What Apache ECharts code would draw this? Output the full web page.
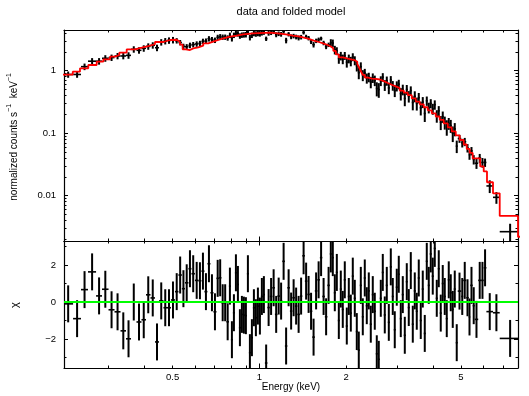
<!DOCTYPE html>
<html>
<head>
<meta charset="utf-8">
<title>data and folded model</title>
<script src="https://cdn.jsdelivr.net/npm/echarts@6/dist/echarts.min.js"></script>
<style>
  html, body { margin: 0; padding: 0; background: #fff; }
  #chart { width: 529px; height: 396px; }
</style>
</head>
<body>
<div id="chart"></div>
<script>
// spectrum bins: edges in keV (one more than the number of bins)
const binEdges = [
  0.2084, 0.2258, 0.2405, 0.2544, 0.2713, 0.2845, 0.2997, 0.3144, 0.3298, 0.3446,
  0.3586, 0.3747, 0.3899, 0.4042, 0.4190, 0.4343, 0.4484, 0.4648, 0.4781, 0.4934,
  0.5095, 0.5238, 0.5384, 0.5518, 0.5674, 0.5812, 0.5976, 0.6145, 0.6294, 0.6447,
  0.6603, 0.6764, 0.6928, 0.7096, 0.7238, 0.7384, 0.7533, 0.7684, 0.7839, 0.7965,
  0.8093, 0.8225, 0.8356, 0.8491, 0.8627, 0.8766, 0.8906, 0.9050, 0.9196, 0.9344,
  0.9495, 0.9647, 0.9802, 0.9961, 1.012, 1.028, 1.045,
  1.066, 1.087, 1.109, 1.132, 1.155, 1.178, 1.201, 1.226, 1.250, 1.276,
  1.301, 1.328, 1.354, 1.382, 1.409, 1.438, 1.467, 1.496, 1.526, 1.557,
  1.589, 1.621, 1.653, 1.687, 1.721, 1.755,
  1.783, 1.812, 1.841, 1.871, 1.901, 1.931, 1.962, 1.994, 2.026, 2.059,
  2.092, 2.125, 2.160, 2.194, 2.230, 2.266, 2.302, 2.339, 2.377, 2.415,
  2.454, 2.493, 2.534, 2.574, 2.616, 2.658, 2.701, 2.744, 2.789, 2.834,
  2.879, 2.925, 2.972, 3.020, 3.069, 3.118, 3.169, 3.220, 3.271, 3.324,
  3.378, 3.432, 3.487, 3.543, 3.600, 3.658, 3.717, 3.777, 3.838, 3.899,
  3.962, 4.026, 4.091, 4.157, 4.223, 4.291, 4.360, 4.431, 4.502, 4.574,
  4.648, 4.723, 4.799,
  4.875, 5.015, 5.095, 5.218, 5.324, 5.388, 5.495, 5.584, 5.742, 5.881,
  6.000, 6.130, 6.462, 6.818, 8.0
];

// normalized counts s^-1 keV^-1
const rate = [
  0.87, 0.87, 1.16, 1.42, 1.42, 1.58, 1.62, 1.72, 1.72, 1.76,
  2.20, 2.12, 2.28, 2.45, 2.55, 2.33, 2.86, 2.98, 3.05, 3.10,
  3.02, 2.82, 2.45, 2.42, 2.55, 2.62, 2.68, 2.74, 2.95, 2.98,
  3.25, 3.15, 3.08, 3.42, 3.50, 3.45, 3.45, 3.35, 3.70, 3.25,
  3.70, 3.95, 3.90, 3.60, 3.72, 3.75, 3.78, 4.15, 3.40, 3.70,
  3.95, 3.88, 3.95, 3.90, 4.05, 4.15,
  3.25, 3.97, 4.06, 4.20, 3.77, 3.91, 3.83, 4.25, 3.05, 3.84,
  3.50, 3.59, 3.47, 3.35, 3.45, 4.09, 3.49, 3.32, 2.93, 2.61,
  3.01, 3.14, 3.27, 2.78, 2.43, 2.60,
  2.81, 2.77, 2.16, 2.08, 1.57, 1.73, 1.54, 1.74, 1.37, 1.56,
  1.42, 1.66, 1.46, 1.19, 0.93, 1.16, 0.85, 0.92, 0.76, 0.79,
  0.66, 0.77, 0.70, 0.52, 0.50, 0.69, 0.79, 0.59, 0.69, 0.53,
  0.71, 0.58, 0.48, 0.57, 0.61, 0.43, 0.50, 0.36, 0.50, 0.39,
  0.48, 0.31, 0.39, 0.30, 0.37, 0.255, 0.315, 0.207, 0.33, 0.257,
  0.30, 0.246, 0.286, 0.19, 0.228, 0.150, 0.184, 0.149, 0.126, 0.144,
  0.132, 0.100, 0.117,
  0.062, 0.082, 0.070, 0.073, 0.058, 0.045, 0.052, 0.038, 0.033, 0.040,
  0.034, 0.034, 0.0143, 0.0094, 0.00265
];

const rateErr = [
  0.10, 0.10, 0.14, 0.17, 0.17, 0.19, 0.19, 0.20, 0.20, 0.21,
  0.26, 0.25, 0.27, 0.29, 0.30, 0.28, 0.34, 0.35, 0.36, 0.37,
  0.30, 0.28, 0.25, 0.24, 0.26, 0.26, 0.27, 0.27, 0.30, 0.30,
  0.32, 0.31, 0.31, 0.34, 0.35, 0.34, 0.34, 0.33, 0.37, 0.32,
  0.37, 0.39, 0.39, 0.36, 0.37, 0.37, 0.38, 0.41, 0.35, 0.37,
  0.39, 0.39, 0.39, 0.39, 0.40, 0.40,
  0.26, 0.34, 0.34, 0.34, 0.34, 0.33, 0.33, 0.33, 0.31, 0.31,
  0.31, 0.30, 0.30, 0.30, 0.29, 0.29, 0.27, 0.27, 0.26, 0.26,
  0.245, 0.245, 0.23, 0.23, 0.22, 0.21,
  0.38, 0.38, 0.34, 0.29, 0.28, 0.27, 0.27, 0.25, 0.25, 0.25,
  0.245, 0.24, 0.24, 0.22, 0.20, 0.20, 0.17, 0.15, 0.14, 0.137,
  0.137, 0.134, 0.134, 0.132, 0.132, 0.123, 0.123, 0.116, 0.116, 0.109,
  0.109, 0.102, 0.102, 0.105, 0.105, 0.097, 0.097, 0.09, 0.09, 0.081,
  0.081, 0.078, 0.078, 0.07, 0.07, 0.063, 0.063, 0.056, 0.056, 0.05,
  0.05, 0.049, 0.049, 0.043, 0.043, 0.038, 0.038, 0.035, 0.035, 0.031,
  0.031, 0.028, 0.028,
  0.014, 0.012, 0.011, 0.011, 0.009, 0.0075, 0.008, 0.0065, 0.0062, 0.0065,
  0.006, 0.0052, 0.0033, 0.002, 0.0009
];

// residuals (data - model) / error
const chi = [
  -0.1, -0.9, 0.67, 1.63, 0.33, 0.69, -0.42, -0.53, -1.56, -1.99,
  0.0, -1.08, -0.96, 0.39, 0.22, -2.16, 0.06, -0.31, -0.31, 0.11,
  0.56, 1.46, 0.72, 1.04, 1.80, 1.53, 1.17, 1.15, 1.67, 0.56,
  2.07, 0.5, -0.53, 1.28, 1.31, -0.04, -0.04, -1.07, 0.86, -2.04,
  -0.58, 1.58, 0.95, -1.39, -0.67, -0.71, -0.74, 1.53, -2.74, -1.93,
  -0.31, -0.85, -0.22, -0.76, 0.3, 0.4,
  -3.3, -0.3, 0.3, 0.77, -0.67, 0.32, 0.05, 2.2, -2.38, 0.77,
  -0.49, 0.23, -0.22, -0.67, 0.32, 2.5, 1.13, 0.41, -0.5, -1.9,
  0.6, 1.2, 2.4, 0.3, -0.8, 0.9,
  2.6, 2.4, 0.5, 1.6, -1.0, 0.7, -0.4, 1.2, -1.3, 0.3,
  -0.6, 1.4, 0.2, -1.6, -2.6, 0.9, -0.8, 1.3, -0.2, 0.6,
  -1.2, 0.4, -0.5, -2.8, -3.1, 0.2, 1.6, -0.7, 0.9, -1.1,
  1.9, 0.3, -1.5, 0.8, 1.5, -0.9, 0.4, -1.8, 1.1, -0.3,
  1.7, -1.2, 0.6, -0.5, 1.3, -1.0, 0.7, -1.7, 2.2, 0.9,
  2.6, 1.4, 2.9, 0.2, 1.8, -0.6, 1.0, 0.3, -0.9, 1.2,
  0.5, -0.4, 0.7,
  -2.2, 0.59, 0.3, 1.17, 0.23, -0.81, 0.9, -0.2, -0.94, 1.17,
  1.17, 1.85, -0.52, -0.58, -1.97
];
const CHI_ERR = 1;

// folded model, a step function: edges in keV and value per step
const modelEdges = [
  0.205, 0.2252, 0.2386, 0.2550, 0.2727, 0.2875, 0.3033, 0.3156, 0.3266, 0.3465,
  0.3702, 0.3906, 0.4118, 0.4343, 0.4640, 0.4896, 0.5164, 0.5302, 0.5418, 0.5562,
  0.5743, 0.5896, 0.6136, 0.6386, 0.6646, 0.6917, 0.7197, 0.7490, 0.7903, 0.8338,
  0.8787, 0.9517, 1.087, 1.159, 1.236, 1.306, 1.370, 1.427, 1.484, 1.545,
  1.608, 1.673, 1.727, 1.769, 1.805, 1.842, 1.886, 1.947, 2.010, 2.076,
  2.143, 2.186, 2.213, 2.248, 2.284, 2.321, 2.377, 2.455, 2.534, 2.616,
  2.701, 2.789, 2.879, 2.972, 3.069, 3.169, 3.271, 3.378, 3.487, 3.600,
  3.717, 3.838, 3.962, 4.091, 4.223, 4.360, 4.502, 4.648, 4.799, 4.954,
  5.115, 5.239, 5.365, 5.495, 5.834, 6.000, 6.159, 6.462, 6.818, 7.890,
  8.3
];
const modelRate = [
  0.863, 0.964, 1.092, 1.234, 1.393, 1.522, 1.675, 1.783, 1.941, 2.20,
  2.33, 2.48, 2.65, 2.88, 3.10, 3.13, 2.91, 2.61, 2.20, 2.14,
  2.28, 2.37, 2.51, 2.74, 2.91, 3.10, 3.30, 3.50, 3.63, 3.82,
  3.97, 4.06, 3.97, 3.82, 3.63, 3.53, 3.37, 3.22, 3.04, 2.88,
  2.72, 2.58, 2.44, 2.28, 2.07, 1.82, 1.63, 1.57, 1.52, 1.47,
  1.39, 1.28, 1.146, 0.989, 0.854, 0.778, 0.745, 0.737, 0.723, 0.68,
  0.635, 0.595, 0.56, 0.525, 0.48, 0.445, 0.405, 0.36, 0.32, 0.29,
  0.26, 0.232, 0.208, 0.185, 0.163, 0.143, 0.1234, 0.1065, 0.0919, 0.0778,
  0.0659, 0.0559, 0.0482, 0.0394, 0.0294, 0.0244, 0.0164, 0.0109, 0.00473, 0.0022
];

// axes
const energyRange = [0.21, 7.89];
const rateRange = [0.00188, 4.48];
const chiRange = [-3.57, 3.30];
const energyLabels = [0.5, 1, 2, 5];
const energyMajorTicks = [1];
const energyMinorTicks = [0.3, 0.4, 0.5, 0.6, 0.7, 0.8, 0.9, 2, 3, 4, 5, 6, 7];
const rateLabels = [0.01, 0.1, 1];
const rateMinorTicks = [
  0.002, 0.003, 0.004, 0.005, 0.006, 0.007, 0.008, 0.009,
  0.02, 0.03, 0.04, 0.05, 0.06, 0.07, 0.08, 0.09,
  0.2, 0.3, 0.4, 0.5, 0.6, 0.7, 0.8, 0.9, 2, 3, 4
];
const chiLabels = [-2, 0, 2];
const chiMinorTicks = [-3, -1, 1, 3];

const FONT = '"Liberation Sans", Arial, sans-serif';

const spec = [];
const resid = [];
for (let i = 0; i < rate.length; i++) {
  const lo = binEdges[i], hi = binEdges[i + 1], mid = (lo + hi) / 2;
  spec.push([mid, rate[i], lo, hi, rate[i] - rateErr[i], rate[i] + rateErr[i]]);
  resid.push([mid, chi[i], lo, hi, chi[i] - CHI_ERR, chi[i] + CHI_ERR]);
}
const modelLine = modelRate.map((v, i) => [modelEdges[i], v]);
modelLine.push([modelEdges[modelEdges.length - 1], modelRate[modelRate.length - 1]]);

// one cross per bin: horizontal bar = bin width, vertical bar = error
function crossItem(params, api) {
  const y = api.value(1);
  const a = api.coord([api.value(2), y]);
  const b = api.coord([api.value(3), y]);
  const c = api.coord([api.value(0), api.value(4)]);
  const d = api.coord([api.value(0), api.value(5)]);
  return {
    type: 'group',
    children: [
      { type: 'line', shape: { x1: a[0], y1: a[1], x2: b[0], y2: b[1] }, style: { stroke: '#000', lineWidth: 1.6 } },
      { type: 'line', shape: { x1: c[0], y1: c[1], x2: d[0], y2: d[1] }, style: { stroke: '#000', lineWidth: 2 } }
    ]
  };
}

const labelStyle = { color: '#000', fontFamily: FONT, fontSize: 9.5 };

function xAxisDef(grid, pos, range, ticks, len, labels, line) {
  return {
    type: 'log', gridIndex: grid, position: pos, min: range[0], max: range[1],
    axisLine: { show: line, onZero: false, lineStyle: { color: '#000', width: 1.2 } },
    axisTick: { show: true, inside: true, length: len, customValues: ticks, lineStyle: { color: '#000', width: 1 } },
    axisLabel: labels ? Object.assign({ show: true, customValues: labels, margin: 4,
      formatter: v => String(+(+v).toPrecision(3)) }, labelStyle) : { show: false },
    splitLine: { show: false }
  };
}

function yAxisDef(grid, type, pos, range, ticks, len, labels, line) {
  return {
    type: type, gridIndex: grid, position: pos, min: range[0], max: range[1],
    axisLine: { show: line, onZero: false, lineStyle: { color: '#000', width: 1.2 } },
    axisTick: { show: true, inside: true, length: len, customValues: ticks, lineStyle: { color: '#000', width: 1 } },
    axisLabel: labels ? Object.assign({ show: true, customValues: labels, margin: 8,
      formatter: v => {
        const n = +(+v).toPrecision(3);
        return n < 0 ? '\u2212' + (-n) : String(n);
      } }, labelStyle) : { show: false },
    splitLine: { show: false }
  };
}

const chart = echarts.init(document.getElementById('chart'), null, { renderer: 'canvas' });

const option = {
  animation: false,
  backgroundColor: '#fff',
  grid: [
    { left: 64, top: 30, width: 454, height: 211 },
    { left: 64, top: 241, width: 454, height: 127 },
    { left: 64, top: 30, width: 454, height: 211 },
    { left: 64, top: 241, width: 454, height: 127 }
  ],
  xAxis: [
    xAxisDef(0, 'bottom', energyRange, energyMinorTicks, 2.5, null, true),
    xAxisDef(0, 'top', energyRange, energyMinorTicks, 2.5, null, true),
    xAxisDef(1, 'bottom', energyRange, energyMinorTicks, 2.5, energyLabels, true),
    xAxisDef(1, 'top', energyRange, energyMinorTicks, 2.5, null, true),
    xAxisDef(2, 'bottom', energyRange, energyMajorTicks, 4.5, null, false),
    xAxisDef(2, 'top', energyRange, energyMajorTicks, 4.5, null, false),
    xAxisDef(3, 'bottom', energyRange, energyMajorTicks, 4.5, null, false),
    xAxisDef(3, 'top', energyRange, energyMajorTicks, 4.5, null, false)
  ],
  yAxis: [
    yAxisDef(0, 'log', 'left', rateRange, rateLabels, 4, rateLabels, true),
    yAxisDef(0, 'log', 'right', rateRange, rateLabels, 4, null, true),
    yAxisDef(1, 'value', 'left', chiRange, chiLabels, 4, chiLabels, true),
    yAxisDef(1, 'value', 'right', chiRange, chiLabels, 4, null, true),
    yAxisDef(2, 'log', 'left', rateRange, rateMinorTicks, 2.5, null, false),
    yAxisDef(2, 'log', 'right', rateRange, rateMinorTicks, 2.5, null, false),
    yAxisDef(3, 'value', 'left', chiRange, chiMinorTicks, 2.5, null, false),
    yAxisDef(3, 'value', 'right', chiRange, chiMinorTicks, 2.5, null, false)
  ],
  series: [
    {
      name: 'data', type: 'custom', xAxisIndex: 0, yAxisIndex: 0,
      renderItem: crossItem, data: spec, clip: true, z: 2, silent: true
    },
    {
      name: 'model', type: 'line', xAxisIndex: 0, yAxisIndex: 0,
      data: modelLine, step: 'end', showSymbol: false, symbol: 'none', clip: true,
      lineStyle: { color: '#ff0000', width: 1.8 }, z: 3, silent: true
    },
    {
      name: 'chi', type: 'custom', xAxisIndex: 2, yAxisIndex: 2,
      renderItem: crossItem, data: resid, clip: true, z: 2, silent: true
    },
    {
      name: 'zero', type: 'line', xAxisIndex: 2, yAxisIndex: 2, data: [], z: 4,
      markLine: {
        silent: true, symbol: 'none', label: { show: false },
        lineStyle: { color: '#00ff00', width: 1.8, type: 'solid' },
        data: [{ yAxis: 0 }]
      }
    }
  ],
  graphic: [
    {
      type: 'text', x: 291, y: 12,
      style: { text: 'data and folded model', font: '11px ' + FONT, fill: '#000',
        align: 'center', verticalAlign: 'middle', textAlign: 'center', textVerticalAlign: 'middle' }
    },
    {
      type: 'text', x: 291, y: 387,
      style: { text: 'Energy (keV)', font: '10px ' + FONT, fill: '#000',
        align: 'center', verticalAlign: 'middle', textAlign: 'center', textVerticalAlign: 'middle' }
    },
    {
      type: 'text', x: 14, y: 137, rotation: Math.PI / 2,
      style: {
        text: '{n|normalized counts s}{s|\u22121}{n|  keV}{s|\u22121}',
        fill: '#000', align: 'center', verticalAlign: 'middle',
        textAlign: 'center', textVerticalAlign: 'middle',
        rich: {
          n: { fontFamily: FONT, fontSize: 10, lineHeight: 16, fill: '#000', color: '#000' },
          s: { fontFamily: FONT, fontSize: 7, verticalAlign: 'top', fill: '#000', color: '#000' }
        }
      }
    },
    {
      type: 'text', x: 15, y: 305, rotation: Math.PI / 2,
      style: { text: '\u03c7', font: '11px ' + FONT, fill: '#000',
        align: 'center', verticalAlign: 'middle', textAlign: 'center', textVerticalAlign: 'middle' }
    }
  ]
};

chart.setOption(option);
</script>
</body>
</html>
